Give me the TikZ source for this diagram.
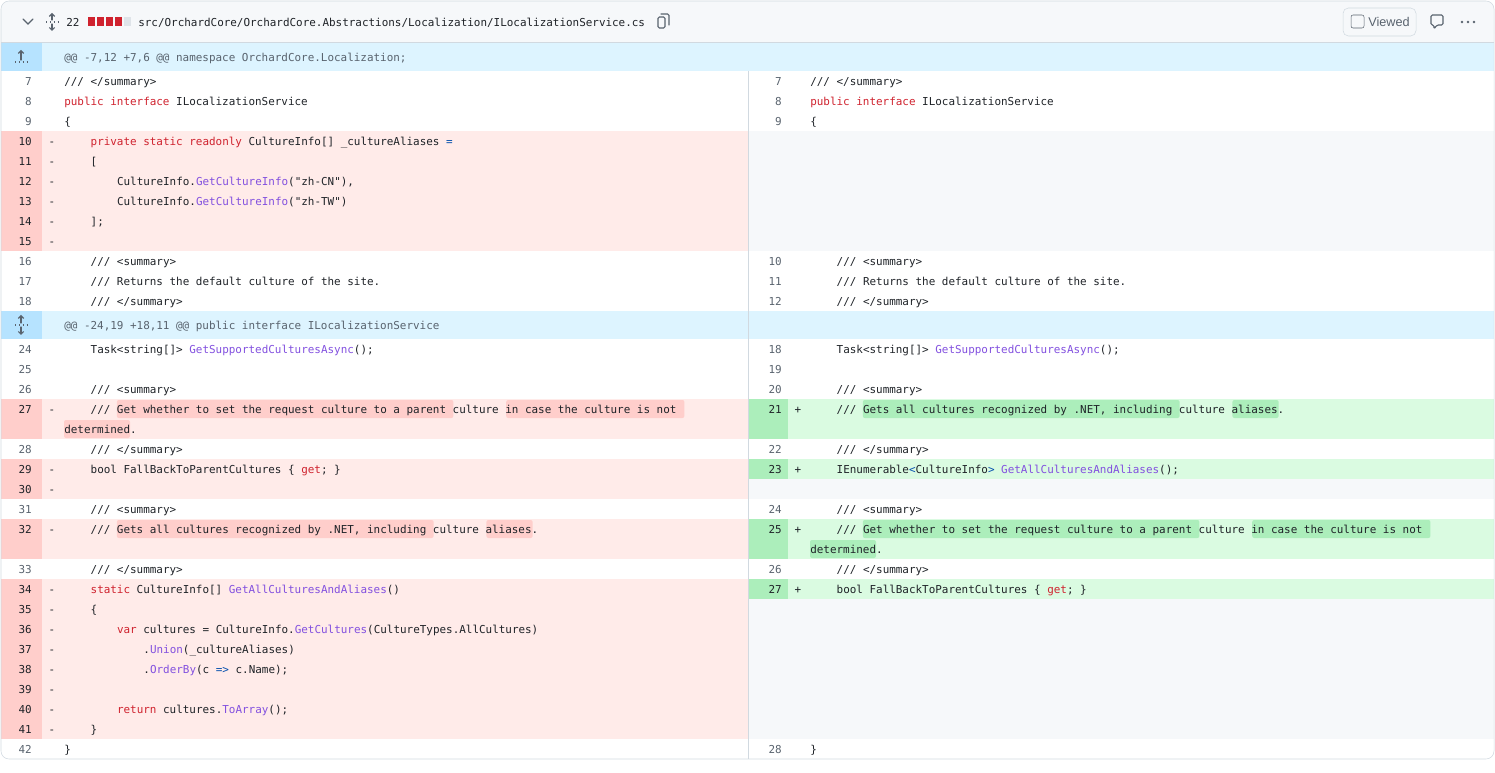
\documentclass[tikz,border=0pt]{standalone}
\usepackage{fontspec}
\setmainfont{Liberation Sans}
\setmonofont{DejaVu Sans Mono}
\usetikzlibrary{arrows.meta}
\definecolor{ink}{HTML}{1F2328}
\definecolor{numgray}{HTML}{59636E}
\definecolor{kwred}{HTML}{CF222E}
\definecolor{fnpurple}{HTML}{8250DF}
\definecolor{opblue}{HTML}{0550AE}
\definecolor{framegray}{HTML}{D1D9E0}
\definecolor{headbg}{HTML}{F6F8FA}
\definecolor{emptybg}{HTML}{F6F8FA}
\definecolor{delbg}{HTML}{FFEBE9}
\definecolor{delnum}{HTML}{FFCECB}
\definecolor{delword}{HTML}{FFCECB}
\definecolor{addbg}{HTML}{DAFBE1}
\definecolor{addnum}{HTML}{ACEEBB}
\definecolor{addword}{HTML}{ACEEBB}
\definecolor{hunkbg}{HTML}{DDF4FF}
\definecolor{hunkgut}{HTML}{B6E3FF}
\tikzset{
  code/.style={font=\fontsize{8.2}{10}\ttfamily, text=ink, anchor=west, inner sep=0pt, text height=6pt, text depth=1.6pt, yshift=-1.3pt},
  lnum/.style={code, anchor=east, text=numgray},
  dnum/.style={code, anchor=east},
  sign/.style={code, anchor=center},
  hunk/.style={code, text=numgray},
  icon/.style={draw=numgray, line width=0.9pt, line cap=round}
}
\newcommand{\kw}[1]{\textcolor{kwred}{#1}}
\newcommand{\fn}[1]{\textcolor{fnpurple}{#1}}
\newcommand{\op}[1]{\textcolor{opblue}{#1}}
% word highlight: colour, code start x, first col, last col, row centre y
\newcommand{\hlword}[5]{\fill[#1, rounded corners=1.5] ({#2+6.6*#3},#5-9) rectangle ({#2+6.6*#4},#5+9);}
\begin{document}
\begin{tikzpicture}[x=0.75pt, y=-0.75pt]
\useasboundingbox (0,0) rectangle (1495,773);

% header
\fill[headbg, rounded corners=6] (1,1) rectangle (1494,42);
\fill[headbg] (1,30) rectangle (1494,42);
\draw[icon] (23,19) -- (28,24) -- (33,19);
\draw[icon, -{Straight Barb[length=2pt]}] (52,20) -- (52,13);
\draw[icon, -{Straight Barb[length=2pt]}] (52,24) -- (52,31);
\draw[numgray, line width=0.9pt, dotted] (46,22) -- (58,22);
\node[code, text=ink] (adds) at (66,22) {22};
\foreach \i in {0,1,2,3} \fill[kwred] (88+9*\i,17) rectangle (95+9*\i,26);
\fill[framegray!70] (124,17) rectangle (131,26);
\node[code] (path) at (138,22) {src/OrchardCore/OrchardCore.Abstractions/Localization/ILocalizationService.cs};
\draw[icon, line width=0.8pt, rounded corners=1] (658,17) rectangle (665,28);
\draw[icon, line width=0.8pt, rounded corners=1] (661,14) -- (669,14) -- (669,25);
\draw[framegray, fill=headbg, rounded corners=4] (1343,8) rectangle (1416,36);
\draw[numgray, rounded corners=1.5] (1351,15) rectangle (1364,28);
\node[font=\fontsize{9.5}{11}\selectfont, text=numgray, anchor=west, inner sep=0] (viewed) at (1368,22) {Viewed};
\draw[icon, line width=0.8pt, rounded corners=1] (1431,15) -- (1443,15) -- (1443,25) -- (1437,25) -- (1434,29) -- (1434,25) -- (1431,25) -- cycle;
\foreach \i in {0,1,2} \fill[numgray] (1462+6*\i,22) circle (1.3);
\draw[framegray] (1,42.5) -- (1494,42.5);

% hunk rows
\fill[hunkbg] (1,43) rectangle (1494,71);
\fill[hunkgut] (1,43) rectangle (42,71);
\draw[icon, -{Straight Barb[length=2pt]}] (21,60) -- (21,50);
\draw[numgray, line width=0.9pt, dotted] (15,62) -- (28,62);
\node[hunk] (h1) at (64,57) {@@ -7,12 +7,6 @@ namespace OrchardCore.Localization;};
\fill[hunkbg] (1,311) rectangle (1494,339);
\fill[hunkgut] (1,311) rectangle (42,339);
\draw[icon, -{Straight Barb[length=2pt]}] (21,323) -- (21,315);
\draw[icon, -{Straight Barb[length=2pt]}] (21,327) -- (21,335);
\draw[numgray, line width=0.9pt, dotted] (15,325) -- (28,325);
\node[hunk] (h2) at (64,325) {@@ -24,19 +18,11 @@ public interface ILocalizationService};

% row backgrounds
\fill[delbg] (42,131) rectangle (748,251);  \fill[delnum] (1,131) rectangle (42,251);
\fill[emptybg] (748,131) rectangle (1494,251);
\fill[delbg] (42,399) rectangle (748,439);  \fill[delnum] (1,399) rectangle (42,439);
\fill[addbg] (788,399) rectangle (1494,439); \fill[addnum] (748,399) rectangle (788,439);
\fill[delbg] (42,459) rectangle (748,499);  \fill[delnum] (1,459) rectangle (42,499);
\fill[addbg] (788,459) rectangle (1494,479); \fill[addnum] (748,459) rectangle (788,479);
\fill[emptybg] (748,479) rectangle (1494,499);
\fill[delbg] (42,519) rectangle (748,559);  \fill[delnum] (1,519) rectangle (42,559);
\fill[addbg] (788,519) rectangle (1494,559); \fill[addnum] (748,519) rectangle (788,559);
\fill[delbg] (42,579) rectangle (748,739);  \fill[delnum] (1,579) rectangle (42,739);
\fill[addbg] (788,579) rectangle (1494,599); \fill[addnum] (748,579) rectangle (788,599);
\fill[emptybg] (748,599) rectangle (1494,739);

% word highlights
\hlword{delword}{64}{8}{59}{409}  \hlword{delword}{64}{67}{94}{409}  \hlword{delword}{64}{0}{10}{429}
\hlword{delword}{64}{8}{56}{529}  \hlword{delword}{64}{64}{71}{529}
\hlword{addword}{810}{8}{56}{409} \hlword{addword}{810}{64}{71}{409}
\hlword{addword}{810}{8}{59}{529} \hlword{addword}{810}{67}{94}{529} \hlword{addword}{810}{0}{10}{549}

\draw[framegray] (748,71) -- (748,759);

% left side, block one
\node[lnum] (nl7) at (32,81) {7};   \node[code] (cl7) at (64,81) {/// </summary>};
\node[lnum] (nl8) at (32,101) {8};  \node[code] (cl8) at (64,101) {\kw{public interface} ILocalizationService};
\node[lnum] (nl9) at (32,121) {9};  \node[code] (cl9) at (64,121) {\{};
\node[dnum] (nl10) at (32,141) {10}; \node[sign] (sl10) at (52,141) {-}; \node[code] (cl10) at (64+6.6*4,141) {\kw{private static readonly} CultureInfo[] \_cultureAliases \op{=}};
\node[dnum] (nl11) at (32,161) {11}; \node[sign] (sl11) at (52,161) {-}; \node[code] (cl11) at (64+6.6*4,161) {[};
\node[dnum] (nl12) at (32,181) {12}; \node[sign] (sl12) at (52,181) {-}; \node[code] (cl12) at (64+6.6*8,181) {CultureInfo.\fn{GetCultureInfo}("zh-CN"),};
\node[dnum] (nl13) at (32,201) {13}; \node[sign] (sl13) at (52,201) {-}; \node[code] (cl13) at (64+6.6*8,201) {CultureInfo.\fn{GetCultureInfo}("zh-TW")};
\node[dnum] (nl14) at (32,221) {14}; \node[sign] (sl14) at (52,221) {-}; \node[code] (cl14) at (64+6.6*4,221) {];};
\node[dnum] (nl15) at (32,241) {15}; \node[sign] (sl15) at (52,241) {-};
\node[lnum] (nl16) at (32,261) {16}; \node[code] (cl16) at (64+6.6*4,261) {/// <summary>};
\node[lnum] (nl17) at (32,281) {17}; \node[code] (cl17) at (64+6.6*4,281) {/// Returns the default culture of the site.};
\node[lnum] (nl18) at (32,301) {18}; \node[code] (cl18) at (64+6.6*4,301) {/// </summary>};

% right side, block one
\node[lnum] (nr7) at (782,81) {7};   \node[code] (cr7) at (810,81) {/// </summary>};
\node[lnum] (nr8) at (782,101) {8};  \node[code] (cr8) at (810,101) {\kw{public interface} ILocalizationService};
\node[lnum] (nr9) at (782,121) {9};  \node[code] (cr9) at (810,121) {\{};
\node[lnum] (nr10) at (782,261) {10}; \node[code] (cr10) at (810+6.6*4,261) {/// <summary>};
\node[lnum] (nr11) at (782,281) {11}; \node[code] (cr11) at (810+6.6*4,281) {/// Returns the default culture of the site.};
\node[lnum] (nr12) at (782,301) {12}; \node[code] (cr12) at (810+6.6*4,301) {/// </summary>};

% left side, block two
\node[lnum] (nl24) at (32,349) {24}; \node[code] (cl24) at (64+6.6*4,349) {Task<string[]> \fn{GetSupportedCulturesAsync}();};
\node[lnum] (nl25) at (32,369) {25};
\node[lnum] (nl26) at (32,389) {26}; \node[code] (cl26) at (64+6.6*4,389) {/// <summary>};
\node[dnum] (nl27) at (32,409) {27}; \node[sign] (sl27) at (52,409) {-}; \node[code] (cl27) at (64+6.6*4,409) {/// Get whether to set the request culture to a parent culture in case the culture is not};
\node[code] (cl27b) at (64,429) {determined.};
\node[lnum] (nl28) at (32,449) {28}; \node[code] (cl28) at (64+6.6*4,449) {/// </summary>};
\node[dnum] (nl29) at (32,469) {29}; \node[sign] (sl29) at (52,469) {-}; \node[code] (cl29) at (64+6.6*4,469) {bool FallBackToParentCultures \{ \kw{get}; \}};
\node[dnum] (nl30) at (32,489) {30}; \node[sign] (sl30) at (52,489) {-};
\node[lnum] (nl31) at (32,509) {31}; \node[code] (cl31) at (64+6.6*4,509) {/// <summary>};
\node[dnum] (nl32) at (32,529) {32}; \node[sign] (sl32) at (52,529) {-}; \node[code] (cl32) at (64+6.6*4,529) {/// Gets all cultures recognized by .NET, including culture aliases.};
\node[lnum] (nl33) at (32,569) {33}; \node[code] (cl33) at (64+6.6*4,569) {/// </summary>};
\node[dnum] (nl34) at (32,589) {34}; \node[sign] (sl34) at (52,589) {-}; \node[code] (cl34) at (64+6.6*4,589) {\kw{static} CultureInfo[] \fn{GetAllCulturesAndAliases}()};
\node[dnum] (nl35) at (32,609) {35}; \node[sign] (sl35) at (52,609) {-}; \node[code] (cl35) at (64+6.6*4,609) {\{};
\node[dnum] (nl36) at (32,629) {36}; \node[sign] (sl36) at (52,629) {-}; \node[code] (cl36) at (64+6.6*8,629) {\kw{var} cultures = CultureInfo.\fn{GetCultures}(CultureTypes.AllCultures)};
\node[dnum] (nl37) at (32,649) {37}; \node[sign] (sl37) at (52,649) {-}; \node[code] (cl37) at (64+6.6*12,649) {.\fn{Union}(\_cultureAliases)};
\node[dnum] (nl38) at (32,669) {38}; \node[sign] (sl38) at (52,669) {-}; \node[code] (cl38) at (64+6.6*12,669) {.\fn{OrderBy}(c \op{=>} c.Name);};
\node[dnum] (nl39) at (32,689) {39}; \node[sign] (sl39) at (52,689) {-};
\node[dnum] (nl40) at (32,709) {40}; \node[sign] (sl40) at (52,709) {-}; \node[code] (cl40) at (64+6.6*8,709) {\kw{return} cultures.\fn{ToArray}();};
\node[dnum] (nl41) at (32,729) {41}; \node[sign] (sl41) at (52,729) {-}; \node[code] (cl41) at (64+6.6*4,729) {\}};
\node[lnum] (nl42) at (32,749) {42}; \node[code] (cl42) at (64,749) {\}};

% right side, block two
\node[lnum] (nr18) at (782,349) {18}; \node[code] (cr18) at (810+6.6*4,349) {Task<string[]> \fn{GetSupportedCulturesAsync}();};
\node[lnum] (nr19) at (782,369) {19};
\node[lnum] (nr20) at (782,389) {20}; \node[code] (cr20) at (810+6.6*4,389) {/// <summary>};
\node[dnum] (nr21) at (782,409) {21}; \node[sign] (sr21) at (798,409) {+}; \node[code] (cr21) at (810+6.6*4,409) {/// Gets all cultures recognized by .NET, including culture aliases.};
\node[lnum] (nr22) at (782,449) {22}; \node[code] (cr22) at (810+6.6*4,449) {/// </summary>};
\node[dnum] (nr23) at (782,469) {23}; \node[sign] (sr23) at (798,469) {+}; \node[code] (cr23) at (810+6.6*4,469) {IEnumerable\op{<}CultureInfo\op{>} \fn{GetAllCulturesAndAliases}();};
\node[lnum] (nr24) at (782,509) {24}; \node[code] (cr24) at (810+6.6*4,509) {/// <summary>};
\node[dnum] (nr25) at (782,529) {25}; \node[sign] (sr25) at (798,529) {+}; \node[code] (cr25) at (810+6.6*4,529) {/// Get whether to set the request culture to a parent culture in case the culture is not};
\node[code] (cr25b) at (810,549) {determined.};
\node[lnum] (nr26) at (782,569) {26}; \node[code] (cr26) at (810+6.6*4,569) {/// </summary>};
\node[dnum] (nr27) at (782,589) {27}; \node[sign] (sr27) at (798,589) {+}; \node[code] (cr27) at (810+6.6*4,589) {bool FallBackToParentCultures \{ \kw{get}; \}};
\node[lnum] (nr28) at (782,749) {28}; \node[code] (cr28) at (810,749) {\}};

% frame
\draw[framegray, rounded corners=6] (1,1) rectangle (1494,759);
\end{tikzpicture}
\end{document}
